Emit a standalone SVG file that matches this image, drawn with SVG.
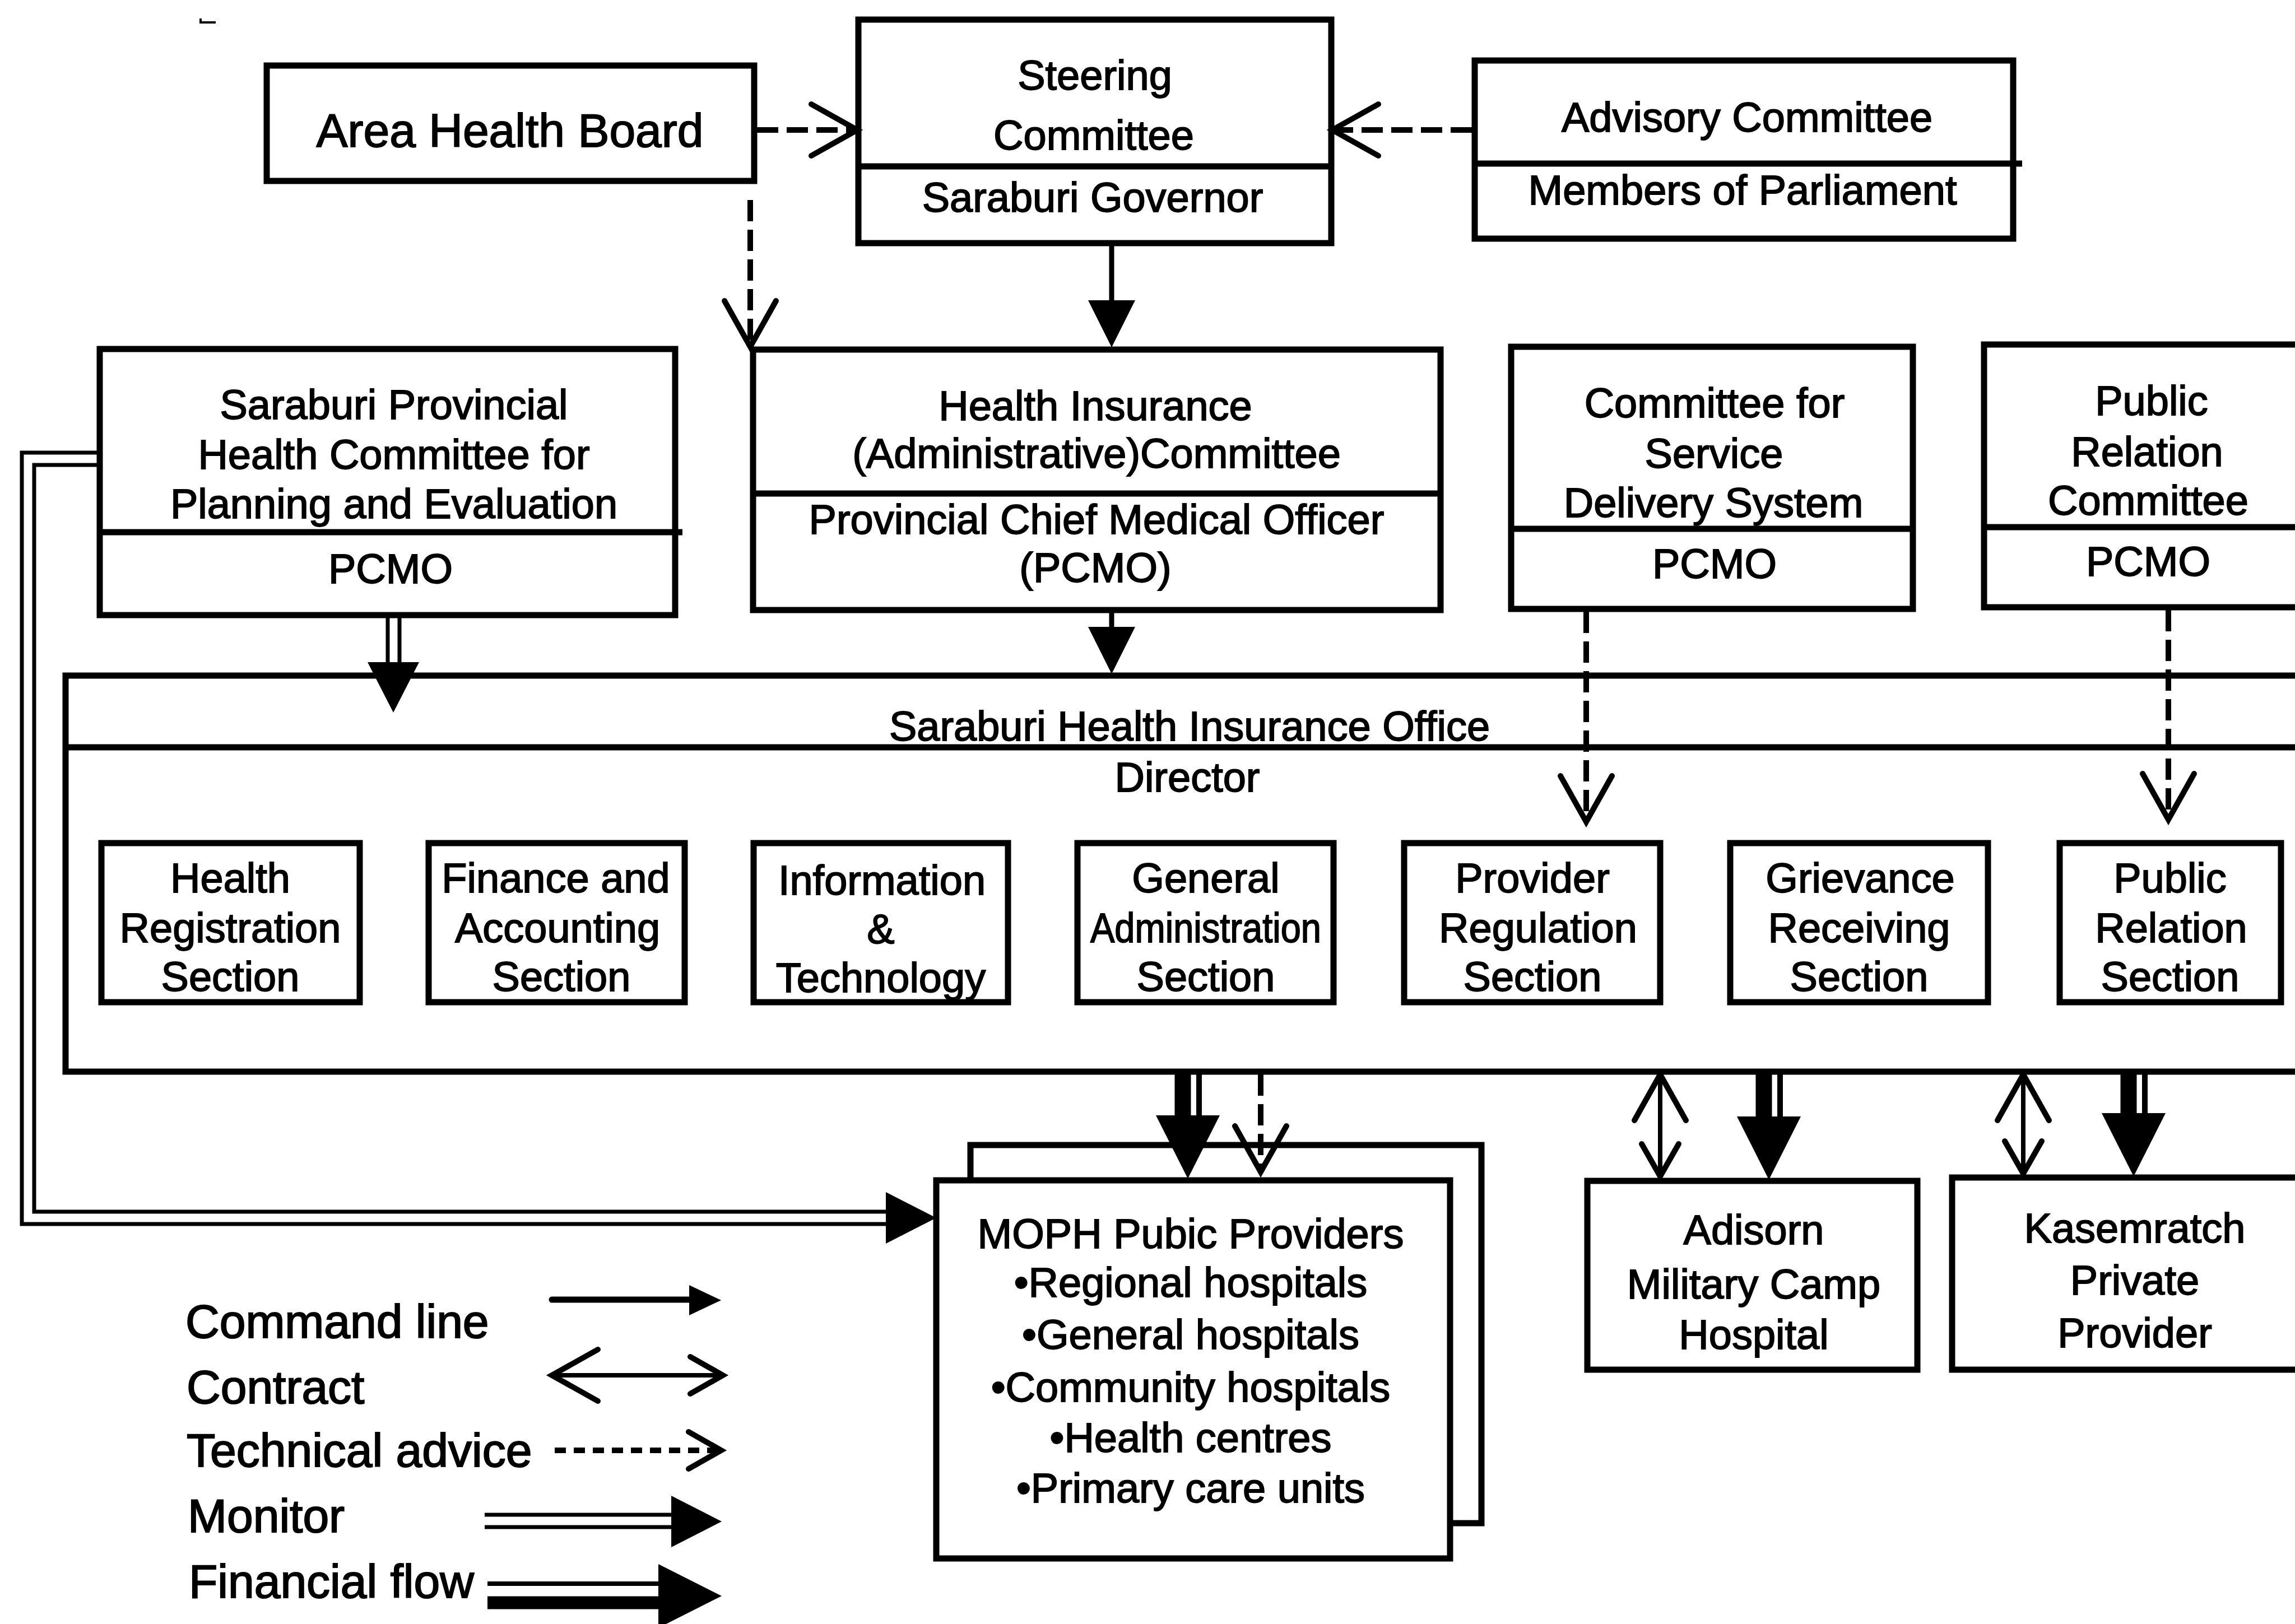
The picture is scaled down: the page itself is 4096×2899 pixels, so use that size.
<svg xmlns="http://www.w3.org/2000/svg" xmlns:xlink="http://www.w3.org/1999/xlink" width="4096" height="2899" viewBox="0 0 4096 2899">
  <style>
    .box { fill: #fff; stroke: #000; stroke-width: 11; }
    .sep { stroke: #000; stroke-width: 11; fill: none; }
    .t { font-family: "Liberation Sans", Arial, Helvetica, sans-serif; font-size: 74px; text-anchor: middle; fill: #000; stroke: #000; stroke-width: 1.8px; }
    .lg { font-family: "Liberation Sans", Arial, Helvetica, sans-serif; font-size: 84px; fill: #000; stroke: #000; stroke-width: 2px; }
    .cmd { stroke: #000; stroke-width: 9; fill: none; }
    .adv { stroke: #000; stroke-width: 10; fill: none; stroke-dasharray: 38 15; }
    .ctr { stroke: #000; stroke-width: 8; fill: none; }
    .mon { stroke: #000; stroke-width: 7; fill: none; }
    .fin-thick { stroke: #000; stroke-width: 29; fill: none; }
    .fin-thin { stroke: #000; stroke-width: 10; fill: none; }
    .open { fill: none; stroke: #000; stroke-width: 10; stroke-linecap: round; stroke-linejoin: miter; }
    .solid { fill: #000; stroke: none; }
  </style>
  <defs>
    <!-- arrowheads, tip at the origin, pointing along +x -->
    <path id="headCmd" class="solid" d="M0,0 L-84,-42 L-84,42 Z"/>
    <path id="headMon" class="solid" d="M0,0 L-90,-46 L-90,46 Z"/>
    <path id="headFin" class="solid" d="M0,0 L-113,-57 L-113,57 Z"/>
    <path id="headOpen" class="open" d="M-82,-46 L0,0 L-82,46"/>
    <path id="headOpenSmall" class="open" d="M-58,-33 L0,0 L-58,33"/>
  </defs>

  <rect x="0" y="0" width="4096" height="2899" fill="#fff"/>

  <!-- stray tick in the top-left corner -->
  <path d="M358,33 L358,40 L385,40" stroke="#000" stroke-width="4" fill="none"/>

  <!-- ===== nodes ===== -->
  <g id="area-health-board">
    <rect class="box" x="476" y="117" width="870" height="206"/>
    <text class="t" x="910" y="262" style="font-size:84px">Area Health Board</text>
  </g>

  <g id="steering-committee">
    <rect class="box" x="1532" y="35" width="844" height="399"/>
    <line class="sep" x1="1532" y1="297" x2="2376" y2="297"/>
    <text class="t" x="1954" y="160">Steering</text>
    <text class="t" x="1952" y="267">Committee</text>
    <text class="t" x="1950" y="378">Saraburi Governor</text>
  </g>

  <g id="advisory-committee">
    <rect class="box" x="2632" y="108" width="961" height="318"/>
    <line class="sep" x1="2632" y1="292" x2="3609" y2="292"/>
    <text class="t" x="3118" y="235">Advisory Committee</text>
    <text class="t" x="3110" y="365">Members of Parliament</text>
  </g>

  <g id="provincial-health-committee">
    <rect class="box" x="178" y="623" width="1027" height="475"/>
    <line class="sep" x1="178" y1="950" x2="1218" y2="950"/>
    <text class="t" x="703" y="748">Saraburi Provincial</text>
    <text class="t" x="703" y="837">Health Committee for</text>
    <text class="t" x="703" y="925">Planning and Evaluation</text>
    <text class="t" x="697" y="1041">PCMO</text>
  </g>

  <g id="health-insurance-committee">
    <rect class="box" x="1344" y="624" width="1227" height="465"/>
    <line class="sep" x1="1344" y1="881" x2="2571" y2="881"/>
    <text class="t" x="1955" y="750">Health Insurance</text>
    <text class="t" x="1957" y="835">(Administrative)Committee</text>
    <text class="t" x="1957" y="953">Provincial Chief Medical Officer</text>
    <text class="t" x="1955" y="1039">(PCMO)</text>
  </g>

  <g id="service-delivery-committee">
    <rect class="box" x="2697" y="619" width="717" height="468"/>
    <line class="sep" x1="2697" y1="944" x2="3414" y2="944"/>
    <text class="t" x="3060" y="745">Committee for</text>
    <text class="t" x="3059" y="835">Service</text>
    <text class="t" x="3058" y="923">Delivery System</text>
    <text class="t" x="3060" y="1032">PCMO</text>
  </g>

  <g id="public-relation-committee">
    <rect class="box" x="3541" y="615" width="600" height="469"/>
    <line class="sep" x1="3541" y1="941" x2="4141" y2="941"/>
    <text class="t" x="3840" y="741">Public</text>
    <text class="t" x="3832" y="832">Relation</text>
    <text class="t" x="3834" y="919">Committee</text>
    <text class="t" x="3834" y="1028">PCMO</text>
  </g>

  <g id="health-insurance-office">
    <rect class="box" x="117" y="1206" width="4030" height="707"/>
    <line class="sep" x1="117" y1="1334" x2="4147" y2="1334"/>
    <text class="t" x="2123" y="1322">Saraburi Health Insurance Office</text>
    <text class="t" x="2119" y="1413">Director</text>
  </g>

  <g id="section-registration">
    <rect class="box" x="181" y="1505" width="461" height="284"/>
    <text class="t" x="411" y="1593">Health</text>
    <text class="t" x="411" y="1682">Registration</text>
    <text class="t" x="411" y="1769">Section</text>
  </g>

  <g id="section-finance">
    <rect class="box" x="765" y="1505" width="457" height="284"/>
    <text class="t" x="992" y="1593">Finance and</text>
    <text class="t" x="995" y="1682">Accounting</text>
    <text class="t" x="1002" y="1769">Section</text>
  </g>

  <g id="section-it">
    <rect class="box" x="1345" y="1505" width="454" height="284"/>
    <text class="t" x="1574" y="1597">Information</text>
    <text class="t" x="1572" y="1684">&amp;</text>
    <text class="t" x="1572" y="1771">Technology</text>
  </g>

  <g id="section-admin">
    <rect class="box" x="1923" y="1505" width="457" height="284"/>
    <text class="t" x="2152" y="1593">General</text>
    <text class="t" x="2152" y="1682" textLength="412" lengthAdjust="spacingAndGlyphs">Administration</text>
    <text class="t" x="2152" y="1769">Section</text>
  </g>

  <g id="section-provider-regulation">
    <rect class="box" x="2506" y="1505" width="457" height="284"/>
    <text class="t" x="2735" y="1593">Provider</text>
    <text class="t" x="2745" y="1682">Regulation</text>
    <text class="t" x="2735" y="1769">Section</text>
  </g>

  <g id="section-grievance">
    <rect class="box" x="3088" y="1505" width="460" height="284"/>
    <text class="t" x="3320" y="1593">Grievance</text>
    <text class="t" x="3318" y="1682">Receiving</text>
    <text class="t" x="3318" y="1769">Section</text>
  </g>

  <g id="section-public-relation">
    <rect class="box" x="3676" y="1505" width="395" height="284"/>
    <text class="t" x="3873" y="1593">Public</text>
    <text class="t" x="3875" y="1682">Relation</text>
    <text class="t" x="3873" y="1769">Section</text>
  </g>

  <g id="moph-providers">
    <rect class="box" x="1732" y="2044" width="912" height="675"/>
    <rect class="box" x="1671" y="2107" width="917" height="675"/>
    <text class="t" x="2125" y="2228">MOPH Pubic Providers</text>
    <text class="t" x="2125" y="2315">•Regional hospitals</text>
    <text class="t" x="2125" y="2408">•General hospitals</text>
    <text class="t" x="2125" y="2502">•Community hospitals</text>
    <text class="t" x="2125" y="2592">•Health centres</text>
    <text class="t" x="2125" y="2682">•Primary care units</text>
  </g>

  <g id="adisorn-hospital">
    <rect class="box" x="2833" y="2108" width="589" height="337"/>
    <text class="t" x="3130" y="2221">Adisorn</text>
    <text class="t" x="3130" y="2318">Military Camp</text>
    <text class="t" x="3130" y="2408">Hospital</text>
  </g>

  <g id="kasemratch-provider">
    <rect class="box" x="3484" y="2102" width="660" height="343"/>
    <text class="t" x="3810" y="2218">Kasemratch</text>
    <text class="t" x="3810" y="2311">Private</text>
    <text class="t" x="3810" y="2405">Provider</text>
  </g>

  <!-- ===== connectors ===== -->
  <g id="connectors">
    <!-- technical advice into the steering committee -->
    <line class="adv" x1="1351" y1="232" x2="1524" y2="232"/>
    <use xlink:href="#headOpen" href="#headOpen" transform="translate(1530,232)"/>
    <line class="adv" x1="2627" y1="232" x2="2384" y2="232"/>
    <use xlink:href="#headOpen" href="#headOpen" transform="translate(2378,232) rotate(180)"/>

    <!-- technical advice: area health board down to the HI committee -->
    <line class="adv" x1="1339" y1="357" x2="1339" y2="612"/>
    <use xlink:href="#headOpen" href="#headOpen" transform="translate(1339,619) rotate(90)"/>

    <!-- command lines -->
    <line class="cmd" x1="1984" y1="434" x2="1984" y2="545"/>
    <use xlink:href="#headCmd" href="#headCmd" transform="translate(1984,620) rotate(90)"/>
    <line class="cmd" x1="1984" y1="1089" x2="1984" y2="1130"/>
    <use xlink:href="#headCmd" href="#headCmd" transform="translate(1984,1203) rotate(90)"/>

    <!-- monitor: provincial committee down to the office -->
    <line class="mon" x1="692" y1="1098" x2="692" y2="1190"/>
    <line class="mon" x1="713" y1="1098" x2="713" y2="1190"/>
    <use xlink:href="#headMon" href="#headMon" transform="translate(702,1272) rotate(90)"/>

    <!-- monitor: provincial committee round to the MOPH providers -->
    <path class="mon" d="M178,808 H39 V2185 H1590"/>
    <path class="mon" d="M178,830 H61 V2163 H1590"/>
    <use xlink:href="#headMon" href="#headMon" transform="translate(1671,2174)"/>

    <!-- technical advice: committees down to the sections -->
    <line class="adv" x1="2831" y1="1092" x2="2831" y2="1458"/>
    <use xlink:href="#headOpen" href="#headOpen" transform="translate(2831,1467) rotate(90)"/>
    <line class="adv" x1="3870" y1="1089" x2="3870" y2="1455"/>
    <use xlink:href="#headOpen" href="#headOpen" transform="translate(3870,1463) rotate(90)"/>

    <!-- office to MOPH providers: financial flow and technical advice -->
    <line class="fin-thick" x1="2111" y1="1913" x2="2111" y2="1995"/>
    <line class="fin-thin" x1="2140" y1="1913" x2="2140" y2="1995"/>
    <use xlink:href="#headFin" href="#headFin" transform="translate(2120,2104) rotate(90)"/>
    <line class="adv" x1="2250" y1="1918" x2="2250" y2="2084"/>
    <use xlink:href="#headOpen" href="#headOpen" transform="translate(2250,2092) rotate(90)"/>

    <!-- office to Adisorn: contract and financial flow -->
    <line class="ctr" x1="2963" y1="1916" x2="2963" y2="2100"/>
    <use xlink:href="#headOpen" href="#headOpen" transform="translate(2963,1918) rotate(-90)"/>
    <use xlink:href="#headOpenSmall" href="#headOpenSmall" transform="translate(2963,2100) rotate(90)"/>
    <line class="fin-thick" x1="3148" y1="1913" x2="3148" y2="1995"/>
    <line class="fin-thin" x1="3177" y1="1913" x2="3177" y2="1995"/>
    <use xlink:href="#headFin" href="#headFin" transform="translate(3157,2106) rotate(90)"/>

    <!-- office to Kasemratch: contract and financial flow -->
    <line class="ctr" x1="3611" y1="1916" x2="3611" y2="2095"/>
    <use xlink:href="#headOpen" href="#headOpen" transform="translate(3611,1918) rotate(-90)"/>
    <use xlink:href="#headOpenSmall" href="#headOpenSmall" transform="translate(3611,2095) rotate(90)"/>
    <line class="fin-thick" x1="3799" y1="1913" x2="3799" y2="1995"/>
    <line class="fin-thin" x1="3828" y1="1913" x2="3828" y2="1995"/>
    <use xlink:href="#headFin" href="#headFin" transform="translate(3808,2100) rotate(90)"/>
  </g>

  <!-- ===== legend ===== -->
  <g id="legend">
    <text class="lg" x="331" y="2388">Command line</text>
    <text class="lg" x="333" y="2505">Contract</text>
    <text class="lg" x="333" y="2618">Technical advice</text>
    <text class="lg" x="335" y="2735">Monitor</text>
    <text class="lg" x="337" y="2852">Financial flow</text>

    <line x1="985" y1="2320" x2="1240" y2="2320" stroke="#000" stroke-width="11" stroke-linecap="round"/>
    <path class="solid" d="M1287,2321 L1230,2294 L1230,2348 Z"/>

    <line class="ctr" x1="988" y1="2455" x2="1288" y2="2455"/>
    <use xlink:href="#headOpen" href="#headOpen" transform="translate(985,2455) rotate(180)"/>
    <use xlink:href="#headOpenSmall" href="#headOpenSmall" transform="translate(1290,2455)"/>

    <line x1="990" y1="2589" x2="1278" y2="2589" stroke="#000" stroke-width="10" stroke-dasharray="20 14"/>
    <use xlink:href="#headOpenSmall" href="#headOpenSmall" transform="translate(1287,2589)"/>

    <line class="mon" x1="865" y1="2704" x2="1205" y2="2704"/>
    <line class="mon" x1="865" y1="2726" x2="1205" y2="2726"/>
    <use xlink:href="#headMon" href="#headMon" transform="translate(1288,2716)"/>

    <line x1="870" y1="2827" x2="1180" y2="2827" stroke="#000" stroke-width="8"/>
    <line x1="870" y1="2861" x2="1180" y2="2861" stroke="#000" stroke-width="23"/>
    <use xlink:href="#headFin" href="#headFin" transform="translate(1288,2849)"/>
  </g>
</svg>
